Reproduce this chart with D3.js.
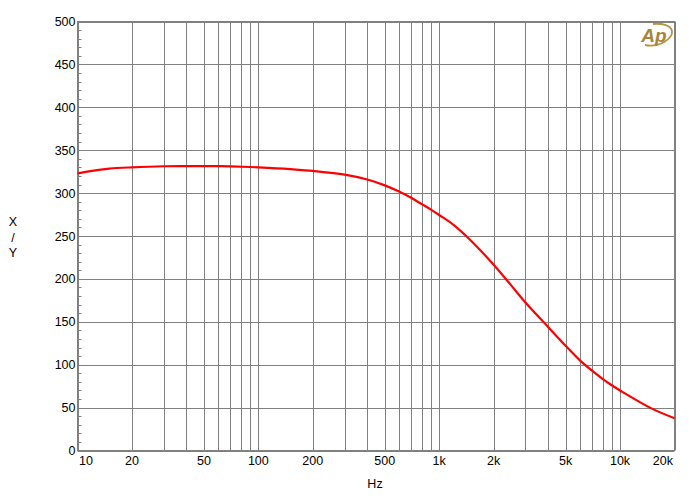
<!DOCTYPE html>
<html>
<head>
<meta charset="utf-8">
<script src="https://cdn.jsdelivr.net/npm/d3@7"></script>
<style>
  body { margin: 0; background: #fff; }
  text { font-family: "Liberation Sans", Arial, sans-serif; }
</style>
</head>
<body>
<div id="chart"></div>
<script>
// response curve
var freqs = [10, 12, 15, 20, 30, 40, 50, 60, 70, 100, 150, 200, 300, 400, 500, 600,
    700, 800, 900, 1000, 1200, 1500, 2000, 2500, 3000, 4000, 5000, 6000, 7000,
    8000, 9000, 10000, 15000, 20000];
var values = [323, 326, 328.5, 330, 331.3, 331.5, 331.5, 331.4, 331.2, 330, 328, 325.8,
    321.5, 315.8, 309, 301.8, 294.5, 287.2, 280.8, 274.5, 263, 244.5, 216.5, 192.5,
    172.5, 144, 122, 105, 93, 83.5, 76, 70, 48.8, 37.7];

var xTickVals = [10, 20, 50, 100, 200, 500, 1000, 2000, 5000, 10000, 20000];
var xTickLabels = ['10', '20', '50', '100', '200', '500', '1k', '2k', '5k', '10k', '20k'];
var yTickVals = [0, 50, 100, 150, 200, 250, 300, 350, 400, 450, 500];

var width = 690, height = 500;
var margin = {top: 21.5, right: 15.5, bottom: 49.5, left: 77.5};

var svg = d3.select('#chart')
    .append('svg')
    .attr('width', width)
    .attr('height', height);

var x = d3.scaleLog()
    .domain([10, 20000])
    .range([margin.left, width - margin.right]);
var y = d3.scaleLinear()
    .domain([0, 500])
    .range([height - margin.bottom, margin.top]);

// vertical grid: every 1..9 per decade
var gridF = [];
[10, 100, 1000, 10000].forEach(function(d) {
    for (var k = 1; k < 10; k++) {
        if (d * k <= 20000) gridF.push(d * k);
    }
});

var grid = svg.append('g')
    .attr('stroke', '#808080')
    .attr('stroke-width', 1);

grid.selectAll('line.v')
    .data(gridF)
    .enter().append('line')
        .attr('class', 'v')
        .attr('x1', function(d) { return Math.round(x(d)) + 0.5; })
        .attr('x2', function(d) { return Math.round(x(d)) + 0.5; })
        .attr('y1', y(0))
        .attr('y2', y(500));

grid.selectAll('line.h')
    .data(yTickVals)
    .enter().append('line')
        .attr('class', 'h')
        .attr('x1', x(10))
        .attr('x2', x(20000))
        .attr('y1', function(d) { return Math.round(y(d)) + 0.5; })
        .attr('y2', function(d) { return Math.round(y(d)) + 0.5; });

// minor ticks on the left edge
grid.selectAll('line.m')
    .data(d3.range(0, 500, 10).filter(function(d) { return d % 50 !== 0; }))
    .enter().append('line')
        .attr('class', 'm')
        .attr('x1', x(10))
        .attr('x2', x(10) + 4)
        .attr('y1', function(d) { return Math.round(y(d)) + 0.5; })
        .attr('y2', function(d) { return Math.round(y(d)) + 0.5; });

svg.append('rect')
    .attr('x', x(10))
    .attr('y', y(500))
    .attr('width', x(20000) - x(10))
    .attr('height', y(0) - y(500))
    .attr('fill', 'none')
    .attr('stroke', '#808080');

// y tick labels
svg.append('g').selectAll('text')
    .data(yTickVals)
    .enter().append('text')
        .attr('x', margin.left - 2)
        .attr('y', function(d) { return y(d) + 4.5; })
        .attr('text-anchor', 'end')
        .attr('font-size', 12.5)
        .text(function(d) { return d; });

// x tick labels
svg.append('g').selectAll('text')
    .data(xTickVals)
    .enter().append('text')
        .attr('x', function(d, i) {
            if (i === 0) return x(d) + 1.5;
            if (i === xTickVals.length - 1) return x(d) - 1.5;
            return x(d);
        })
        .attr('y', 465)
        .attr('text-anchor', function(d, i) {
            if (i === 0) return 'start';
            if (i === xTickVals.length - 1) return 'end';
            return 'middle';
        })
        .attr('font-size', 12.5)
        .text(function(d, i) { return xTickLabels[i]; });

// axis titles
svg.append('text')
    .attr('x', 375).attr('y', 488)
    .attr('text-anchor', 'middle')
    .attr('font-size', 12.5)
    .text('Hz');

['X', '/', 'Y'].forEach(function(t, i) {
    svg.append('text')
        .attr('x', 13).attr('y', 226 + i * 15.5)
        .attr('text-anchor', 'middle')
        .attr('font-size', 12.5)
        .text(t);
});

// curve
var line = d3.line()
    .x(function(d, i) { return x(freqs[i]); })
    .y(function(d) { return y(d); })
    .curve(d3.curveCatmullRom.alpha(0.5));

svg.append('path')
    .datum(values)
    .attr('d', line)
    .attr('fill', 'none')
    .attr('stroke', '#ff0000')
    .attr('stroke-width', 2.2);

// Ap logo
var logo = svg.append('g').attr('transform', 'translate(655,36)');
logo.append('path')
    .attr('d', 'M-10,9 C5,12 18,2 17,-5 C16,-11 6,-13 -2,-12')
    .attr('fill', 'none')
    .attr('stroke', '#b8923e')
    .attr('stroke-width', 1.8);
logo.append('text')
    .attr('x', -1).attr('y', 6)
    .attr('text-anchor', 'middle')
    .attr('font-size', 19)
    .attr('font-style', 'italic')
    .attr('font-weight', 'bold')
    .attr('font-family', '"Liberation Serif", serif')
    .attr('fill', '#a8843a')
    .text('Ap');
</script>
</body>
</html>
